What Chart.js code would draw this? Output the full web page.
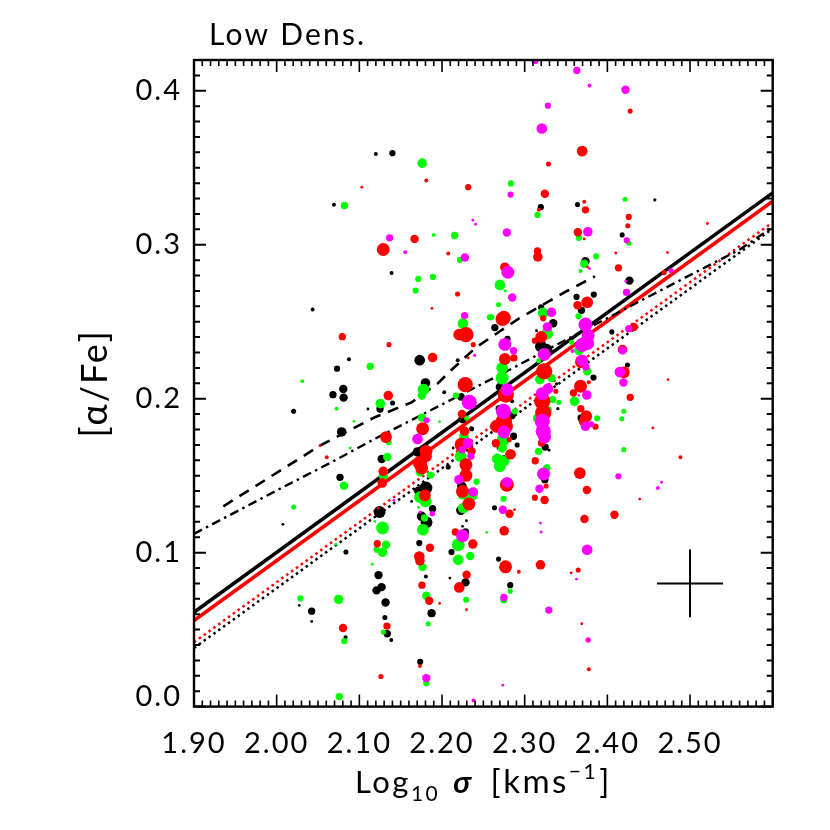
<!DOCTYPE html>
<html>
<head>
<meta charset="utf-8">
<title>Low Dens.</title>
<script src="https://cdn.jsdelivr.net/npm/chart.js@4"></script>
<style>
  html, body { margin: 0; padding: 0; background: #fff; }
  #wrap { width: 830px; height: 830px; }
</style>
</head>
<body>
<div id="wrap"><canvas id="chart" width="830" height="830"></canvas></div>
<script>
// ── Data ──
const blackX = [
  2.120,2.140,2.0693,2.0435,2.0874,2.073,2.139,2.173,2.219,2.180,
  2.0806,2.0681,2.081,2.0205,2.0786,2.125,2.1104,2.1402,2.127,2.0766,
  2.0076,2.0838,2.1245,2.1632,2.1704,2.1805,2.1712,2.1886,2.1753,2.1813,
  2.1725,2.1232,2.1269,2.1208,2.1317,2.1309,2.1338,2.1386,2.0423,2.0274,
  2.0423,2.0834,2.1736,2.1805,2.1874,2.2027,2.2232,2.2248,2.2357,2.2135,
  2.2075,2.2240,2.2228,2.2296,2.2284,2.2248,2.2115,2.2095,2.2284,
  2.3195,2.3639,2.4574,2.4179,2.3735,2.4267,2.3836,2.3627,2.3687,2.3199,
  2.3345,2.2639,2.2792,2.3143,2.3196,2.3264,2.4054,2.4243,2.3832,
  2.2700,2.2849,2.2692,2.2849,2.3401,2.3683,2.3280,2.2865,2.2909,2.3248,
  2.3296,2.2684,2.2748,2.3244,2.2635,2.2684,2.2825,2.3385
];
const blackY = [
  .359,.3595,.326,.258,.2256,.2195,.2817,.225,.225,.2102,
  .2063,.2026,.2007,.1918,.1784,.1933,.1933,.1972,.1608,.1489,
  .1184,.1004,.1264,.1333,.1654,.1420,.1402,.1285,.1236,.1197,
  .1062,.0854,.0776,.0755,.0676,.0579,.0473,.0432,.0620,.0657,
  .0553,.0451,.0291,.0845,.0607,.2042,.2011,.1868,.1805,.1680,
  .1556,.1431,.1275,.1207,.1134,.1171,.1004,.0835,.0807,
  .3244,.3261,.3292,.3064,.2893,.2767,.2676,.2661,.2574,.2594,
  .2490,.2462,.2388,.2442,.2340,.2319,.2434,.2219,.2137,
  .2076,.1983,.1935,.1886,.1935,.1875,.1777,.1756,.1699,.1686,
  .1665,.1680,.1621,.1474,.1292,.0958,.0789,.2096
];
const blackSize = [
  1.5,2.5,1.5,1.5,1.5,2.5,1.5,4.5,1.5,4,
  3.5,3,3.5,2,4,3,1,2,3.5,3,
  1,2,5,1,4,5.5,3.5,3,4,5,
  2.5,3.5,3.5,3.5,3.5,2,3,1.5,3,1,
  1,1.5,2.5,1.5,3.5,1.5,3,3.5,2,1,
  2,4,4,1,3,1,2.5,1,3.5,
  2.5,2,1.2,2,3.5,3.5,2.5,2.5,3,2.5,
  3.5,3,2.5,1,5,5,2,2,2.5,
  3.5,1.5,3,2.5,1.2,3,2,3,2,3,
  1,1.5,1.5,3,2,2,2.5,1.2
];

const greenX = [
  2.176,2.082,2.190,2.2152,2.2216,2.1713,2.189,2.168,2.2253,2.258,2.1132,2.031,
  2.1776,2.1756,2.1254,2.0725,2.0935,2.089,2.1354,2.1338,2.1757,2.197,2.2168,2.2297,
  2.2265,2.2225,2.0814,2.1293,2.1861,2.1733,2.0205,2.1188,2.1281,2.0717,2.1322,2.1209,
  2.1281,2.1156,2.1733,2.1801,2.1789,2.1769,2.1765,2.181,2.2293,2.1833,2.0286,2.0749,
  2.129,2.0818,2.181,2.0757,2.2418,2.2357,2.2256,2.2256,2.2196,2.2196,2.2341,2.1716,2.2543,
  2.2833,2.3155,2.4215,2.3655,2.4259,2.3864,2.372,2.3675,2.2700,2.2764,2.2684,2.2595,
  2.3224,2.3651,2.3272,2.3566,2.3655,2.3171,2.2728,2.3756,2.2728,2.3324,2.3183,
  2.3603,2.3337,2.3413,2.3284,2.4199,2.4175,2.3877,2.2881,2.3143,2.2740,2.2728,2.3167,
  2.4199,2.2668,2.2752,2.2700,2.3268,2.3715,2.2744,2.2825,2.2748
];
const greenY = [
  .353,.3255,.3064,.306,.2902,.2778,.2791,.2702,.2488,.2529,.221,.2113,
  .2059,.2020,.1968,.1935,.1853,.1680,.1719,.1621,.1877,.1851,.2020,.1875,
  .1756,.1626,.1435,.1500,.1504,.1522,.1296,.1203,.1160,.1054,.1051,.1019,
  .1002,.0924,.1361,.1333,.1225,.1149,.0906,.0720,.0694,.0538,.0703,.0696,
  .0484,.0425,.0152,.0065,.1461,.1376,.1387,.1290,.1051,.0954,.0978,.1294,.1132,
  .3398,.3194,.3296,.3045,.3010,.2925,.2876,.2830,.2739,.2700,.2611,.2529,
  .2557,.2535,.2423,.2366,.2314,.2247,.2200,.2178,.2134,.2134,.2124,
  .1983,.1994,.1977,.1929,.1918,.1870,.1873,.1918,.1875,.1734,.1680,.1658,
  .1669,.1610,.1597,.1561,.1550,.1532,.1350,.0750,.0694
];
const greenSize = [
  4,3,1.5,3,2.5,2.5,2.5,2.5,4.5,2.5,3,1.5,
  5,3.5,4,1.5,1,1,2.5,3.5,3.5,1,2.5,2,
  4,5,3.5,4,3,3.5,2,1,5.5,1,3.5,2.5,
  4,1,5,5,3,5,3.5,3.5,2.5,2,2.5,4,
  2,2.5,2.5,3,2.5,5.5,5.5,4.5,5.5,4.5,3.5,1,1,
  2.5,2.5,2,2.5,2,2.5,3.5,1.5,4.5,1,2,2.5,
  4.5,2.5,5,2,4,2,5,3.5,5.5,3.5,4,
  4,3,2,3,2,2,2.5,2.5,3,5.5,4,3,
  2,4.5,4.5,5,3,1,2.5,2,3
];

const redX = [
  2.103,2.181,2.2317,2.1668,2.1289,2.2075,2.2188,2.1878,2.0794,2.1358,2.1886,2.2208,2.2289,2.2378,2.2317,2.2281,
  2.135,2.2241,2.1765,2.1322,2.0524,2.0605,2.2273,2.2237,2.2357,2.1806,2.1806,2.1733,2.1753,2.2289,2.2289,2.1289,
  2.1277,2.2248,2.1793,2.2325,2.1229,2.2160,2.2373,2.1217,2.1854,2.1725,2.1733,2.2297,2.1757,2.2208,2.1845,2.197,
  2.2297,2.0802,2.1334,2.1733,2.1261,
  2.4276,2.3695,2.3288,2.3244,2.372,2.3171,2.3735,2.4259,2.4247,2.3643,2.372,2.3155,2.3159,2.4102,2.4727,2.5210,
  2.4134,2.376,2.2760,2.4687,2.3756,2.3639,2.2748,2.2732,2.3224,2.4320,2.32,2.3123,2.4183,2.2760,2.2869,2.3687,
  2.3236,2.4199,2.4735,
  2.3675,2.359,2.3776,2.3377,2.4276,2.2772,2.3212,2.3679,2.3224,2.3744,2.3711,2.3856,2.4550,2.2748,2.2659,2.2760,
  2.3204,2.2813,2.2651,2.2829,2.3127,2.4884,2.3667,2.2784,2.326,2.3752,2.3123,2.3240,2.4392,2.4086,2.2817,2.2877,
  2.3723,2.2752,2.2768,2.3191,2.2929,2.3647,2.3562,2.3691,2.3776
];
const redY = [
  .3374,.3417,.3374,.3038,.2969,.2943,.268,.2587,.2403,.2351,.2267,.2416,.2416,.2351,.2265,.2091,
  .2020,.1901,.1805,.1751,.1695,.1619,.1788,.1701,.1658,.1658,.1626,.1582,.1550,.1571,.1502,.1528,
  .1452,.1398,.1372,.1316,.1290,.1134,.1056,.1058,.1032,.0975,.0947,.0856,.0789,.0774,.0687,.0670,
  .0629,.0510,.0523,.0263,.0195,
  .3868,.3608,.3524,.3331,.3279,.3227,.3227,.3181,.3123,.3081,.3038,.2960,.2921,.2947,.2949,.3138,
  .2850,.2856,.2854,.2819,.2626,.2607,.2525,.2518,.2522,.2466,.2401,.2377,.2319,.2258,.2265,.2239,
  .2178,.2171,.2124,
  .2081,.2037,.2107,.2048,.2009,.2027,.1983,.1935,.1907,.1886,.1853,.1818,.1810,.1853,.1821,.1821,
  .1712,.1734,.1710,.1639,.1597,.1619,.1517,.1441,.1433,.1407,.1357,.1342,.1348,.1246,.1253,.1279,
  .1218,.1142,.0908,.0921,.0876,.0887,.0869,.0538,.0243
];
const redSize = [
  1,1.5,2.5,3.5,5.5,1.5,2,1,3,2,4,5,6.5,2,1,6.5,
  4,3.5,5.5,5,1,1.5,4,6,3.5,5.5,5,6,5.5,5.5,5.5,4,
  4,5.5,5,5.5,1,3,4,3,3.5,4.5,4,3.5,3,4.5,3.5,1,
  1,3.5,3,1.5,2,
  2,4.5,2,3.5,1.5,1.5,3,2.5,2,3.5,1,3,4,1,1,1,
  3,1,4,2,5,3.5,6,6,2.5,3.5,5,2.5,4,5,3,5.5,
  7,5,1,
  5.5,3,1.5,2,3,7,7,3,7,5,4,2.5,1,7,5.5,7,
  3,2,3.5,4.5,3,1.5,5,6,2,3.5,2.5,3.5,1,3.5,3.5,1,
  3.5,4,5.5,4,1.5,2,1,1,1.5
];

const magentaX = [
  2.1366,2.1555,2.2277,2.2373,2.2406,2.2273,2.2394,
  2.233,2.1813,2.1704,2.2313,2.2244,2.2349,2.2204,2.2377,2.1882,2.2381,2.181,2.1418,2.1733,2.2248,
  2.3123,2.3631,2.3784,2.4219,2.328,2.3208,2.2829,2.2784,2.3764,2.2797,2.4235,2.3784,2.4771,2.4223,2.4231,
  2.2849,2.3324,2.3276,2.3735,2.4259,2.3768,2.2760,2.3756,2.3695,2.4183,2.2865,2.3578,2.3236,2.3695,2.374,2.4151,2.4195,
  2.2788,2.3212,2.328,2.3752,2.2744,2.3212,2.2748,2.3224,2.324,2.3735,2.3804,2.3655,2.3228,2.2788,2.4134,2.4610,2.4654,
  2.3179,2.2736,2.3191,2.3199,2.3756,2.2748,2.3292,2.3627,2.3768,2.2736
];
const magentaY = [
  .3045,.2951,.2917,.3159,.3133,.2540,.2282,
  .1977,.1860,.1738,.1712,.1669,.1626,.1474,.1394,.1253,.0040,.0185,.1340,.1264,.1110,
  .4197,.4132,.4035,.4007,.3903,.3755,.3326,.3079,.3084,.2821,.3029,.2845,.2832,.2763,.2691,
  .2657,.2561,.2466,.2481,.2455,.2410,.2353,.2362,.2349,.2314,.2312,.2310,.2288,.2249,.2206,.2173,.2105,
  .2059,.2033,.2065,.2024,.1918,.1853,.1784,.1788,.1751,.1821,.1834,.2022,.1511,.1457,.1496,.1420,.1457,
  .1415,.1279,.1192,.1134,.1019,.0709,.0627,.0828,.0432,.0139
];
const magentaSize = [
  3,1.5,3.5,1,1,3,1.2,
  6.5,2.5,4.5,4.5,3,3,4,4,2.2,1.5,3.5,1,1,5.5,
  3,3,1.5,3.5,2.5,4.5,2.5,3.5,4,5.5,2.5,1,2,1,3,
  3.5,4,4,6,3,5.5,5.5,6,6,3.5,3,1.5,5.5,5,3,4.5,3.5,
  5.5,5.5,4.5,4,6.5,6.5,5.5,6.5,5.5,4,2.5,1,5.5,4.5,2.5,1.5,1,
  3.5,3.5,1,1,4.5,3,3,1,2.2,1
];

// fit lines, two end values
const fitX = [1.9, 2.6];
const blackFit = [0.0613, 0.3337];
const redFit = [0.0559, 0.3283];
const blackDotted = [0.0380, 0.3105];
const redDotted = [0.0418, 0.3146];

// running medians
const dashedX = [1.9355,2.0524,2.1189,2.1632,2.1954,2.2116,2.2418,2.2942,2.3506,2.385];
const dashedY = [0.1301,0.1695,0.1880,0.1976,0.2102,0.2188,0.2336,0.2525,0.2698,0.2795];
const dashDotX = [1.9,2.004,2.0645,2.1189,2.1995,2.2861,2.3465,2.4312,2.4958,2.5602,2.6];
const dashDotY = [0.1122,0.1415,0.1582,0.174,0.1961,0.22,0.2373,0.2611,0.2791,0.2969,0.3115];

// error bar
const errX = [2.46, 2.54];
const errYAtX = [0.08, 0.08];
const errXAtY = [2.5, 2.5];
const errY = [0.058, 0.102];

const xTickValues = [1.9,2.0,2.1,2.2,2.3,2.4,2.5,2.6];
const yTickValues = [0.0,0.1,0.2,0.3,0.4];

const TITLE = "Low Dens.";
const Y_TITLE = "[α/Fe]";
const FONT = "Lato, 'Open Sans', sans-serif";

// x title pieces: text, size, baseline shift, font style, gap after
const xTitleRuns = [
  ["Log", 31, 0, "400", 0],
  ["10", 21, 8, "400", 13],
  ["σ", 31, 0, "italic 700", 17],
  ["[kms", 33, 0, "400", 0],
  ["−1", 21, -14, "400", 1],
  ["]", 33, 0, "400", 0]
];

// ── Helpers ──
const zipXY = (xs, ys) => xs.map((x, i) => ({ x, y: ys[i] }));
const zipXYR = (xs, ys, rs) => xs.map((x, i) => ({ x, y: ys[i], r: rs[i] * 1.12 + 0.3 }));

function dots(label, color, xs, ys, rs, order) {
  return {
    type: "bubble", label, order,
    data: zipXYR(xs, ys, rs),
    backgroundColor: color, borderWidth: 0, hoverBorderWidth: 0
  };
}
function line(label, color, xs, ys, width, dash, order) {
  return {
    type: "line", label, order,
    data: zipXY(xs, ys),
    borderColor: color, borderWidth: width, borderDash: dash,
    pointRadius: 0, tension: 0, fill: false
  };
}

// ── Inward ticks on all four sides, IDL style ──
const frameTicks = {
  id: "frameTicks",
  beforeDraw(c) {
    c.ctx.letterSpacing = "2px";
  },
  afterDatasetsDraw(c) {
    const { ctx, chartArea: a, scales: { x, y } } = c;
    ctx.save();
    ctx.strokeStyle = "#000";
    ctx.lineWidth = 1.6;
    for (let i = 0; i <= 70; i++) {
      const px = x.getPixelForValue(1.9 + i / 100);
      const len = i % 10 === 0 ? 12 : 6;
      ctx.beginPath();
      ctx.moveTo(px, a.top); ctx.lineTo(px, a.top + len);
      ctx.moveTo(px, a.bottom); ctx.lineTo(px, a.bottom - len);
      ctx.stroke();
    }
    ctx.lineWidth = 2;
    for (let i = 0; i <= 42; i++) {
      const py = y.getPixelForValue(i / 100);
      const len = i % 10 === 0 ? 12 : 6;
      ctx.beginPath();
      ctx.moveTo(a.left, py); ctx.lineTo(a.left + len, py);
      ctx.moveTo(a.right, py); ctx.lineTo(a.right - len, py);
      ctx.stroke();
    }
    ctx.lineWidth = 2.4;
    ctx.strokeRect(a.left, a.top, a.right - a.left, a.bottom - a.top);

    // panel label
    ctx.fillStyle = "#000";
    ctx.font = "400 30px " + FONT;
    ctx.letterSpacing = "2.2px";
    ctx.textAlign = "left";
    ctx.textBaseline = "alphabetic";
    ctx.fillText(TITLE, 209, 45);

    // x title with sub and superscript
    ctx.letterSpacing = "2.5px";
    let tx = 355;
    xTitleRuns.forEach(([text, size, shift, style, gap]) => {
      ctx.font = `${style} ${size}px ${FONT}`;
      ctx.fillText(text, tx, 793 + shift);
      tx += ctx.measureText(text).width + gap;
    });
    ctx.restore();
  }
};

// ── Chart ──
new Chart(document.getElementById("chart"), {
  data: {
    datasets: [
      line("fit black", "#000", fitX, blackFit, 3.6, [], 20),
      line("fit red", "#f00", fitX, redFit, 3.6, [], 19),
      line("dotted black", "#000", fitX, blackDotted, 2.5, [2.5, 3.5], 18),
      line("dotted red", "#f00", fitX, redDotted, 2.5, [2.5, 3.5], 17),
      line("dashed", "#000", dashedX, dashedY, 2.6, [11, 8], 16),
      line("dash dot", "#000", dashDotX, dashDotY, 2.4, [9, 4.5, 2.5, 4.5], 15),
      line("error x", "#000", errX, errYAtX, 2, [], 14),
      line("error y", "#000", errXAtY, errY, 2, [], 13),
      dots("black", "#000", blackX, blackY, blackSize, 4),
      dots("green", "#0f0", greenX, greenY, greenSize, 3),
      dots("red", "#f00", redX, redY, redSize, 2),
      dots("magenta", "#f0f", magentaX, magentaY, magentaSize, 1)
    ]
  },
  plugins: [frameTicks],
  options: {
    responsive: false,
    animation: false,
    layout: { padding: { top: 60, right: 57.3, bottom: 0, left: 0 } },
    plugins: { legend: { display: false }, tooltip: { enabled: false }, title: { display: false } },
    scales: {
      x: {
        type: "linear", min: 1.9, max: 2.6,
        afterFit(s) { s.height = 123.4; },
        afterBuildTicks(s) { s.ticks = xTickValues.map(value => ({ value })); },
        grid: { display: false, drawTicks: false },
        border: { display: false },
        ticks: {
          color: "#000", padding: 20, maxRotation: 0, autoSkip: false,
          font: { family: FONT, size: 29, weight: 400 },
          callback: v => Math.abs(v - 2.6) < 1e-6 ? "" : v.toFixed(2)
        }
      },
      y: {
        type: "linear", min: 0, max: 0.42,
        afterFit(s) { s.width = 194; },
        afterBuildTicks(s) { s.ticks = yTickValues.map(value => ({ value })); },
        grid: { display: false, drawTicks: false },
        border: { display: false },
        ticks: {
          color: "#000", padding: 12, autoSkip: false,
          font: { family: FONT, size: 29, weight: 400, lineHeight: 0.7 },
          callback: v => v === 0 ? ["0.0", ""] : v.toFixed(1)
        },
        title: {
          display: true, text: Y_TITLE, color: "#000",
          font: { family: FONT, size: 36, weight: 400 },
          padding: { top: 74, bottom: 0 }
        }
      }
    }
  }
});
</script>
</body>
</html>
